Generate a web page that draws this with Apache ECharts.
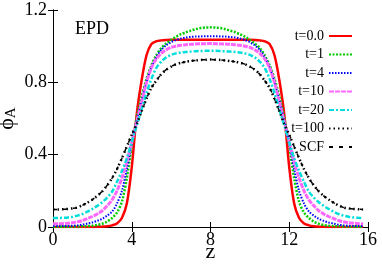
<!DOCTYPE html>
<html>
<head>
<meta charset="utf-8">
<script src="https://cdn.jsdelivr.net/npm/echarts@6/dist/echarts.min.js"></script>
<style>
html,body{margin:0;padding:0;background:#fff;}
#chart{width:382px;height:267px;}
</style>
</head>
<body>
<div id="chart"></div>
<script>
// z positions (step 0.25)
const zValues = [0,0.25,0.5,0.75,1,1.25,1.5,1.75,2,2.25,2.5,2.75,3,3.25,3.5,3.75,4,4.25,4.5,4.75,5,5.25,5.5,5.75,6,6.25,6.5,6.75,7,7.25,7.5,7.75,8,
  8.25,8.5,8.75,9,9.25,9.5,9.75,10,10.25,10.5,10.75,11,11.25,11.5,11.75,12,12.25,12.5,12.75,13,13.25,13.5,13.75,14,14.25,14.5,14.75,15,15.25,15.5,15.75];

const t0 = [0,0,0,0,0,0,0,0,0,0.001,0.002,0.004,0.009,0.02,0.05,0.13,0.33,0.62,0.81,0.95,1.012,1.027,1.032,1.034,1.035,1.035,1.035,1.035,1.035,1.035,1.035,1.035,1.035,
  1.035,1.035,1.035,1.035,1.035,1.035,1.035,1.035,1.034,1.032,1.027,1.012,0.95,0.81,0.62,0.33,0.13,0.05,0.02,0.009,0.004,0.002,0.001,0,0,0,0,0,0,0,0];

const t1 = [0.001,0.001,0.001,0.002,0.002,0.003,0.004,0.005,0.007,0.011,0.018,0.03,0.05,0.08,0.14,0.27,0.45,0.6,0.72,0.82,0.895,0.95,0.99,1.015,1.034,1.052,1.066,1.077,1.086,1.094,1.1,1.103,1.104,
  1.103,1.1,1.094,1.086,1.077,1.066,1.052,1.034,1.015,0.99,0.95,0.895,0.82,0.72,0.6,0.45,0.27,0.14,0.08,0.05,0.03,0.018,0.011,0.007,0.005,0.004,0.003,0.002,0.002,0.001,0.001];

const t4 = [0.005,0.005,0.005,0.006,0.007,0.009,0.013,0.019,0.025,0.034,0.045,0.063,0.085,0.13,0.2,0.32,0.46,0.59,0.7,0.8,0.885,0.94,0.98,1.005,1.022,1.034,1.042,1.048,1.051,1.053,1.054,1.055,1.055,
  1.055,1.054,1.053,1.051,1.048,1.042,1.034,1.022,1.005,0.98,0.94,0.885,0.8,0.7,0.59,0.46,0.32,0.2,0.13,0.085,0.063,0.045,0.034,0.025,0.019,0.013,0.009,0.007,0.006,0.005,0.005];

const t10 = [0.018,0.018,0.019,0.021,0.024,0.029,0.036,0.047,0.058,0.072,0.09,0.117,0.15,0.2,0.27,0.36,0.47,0.58,0.69,0.8,0.88,0.93,0.96,0.98,0.993,1.0,1.005,1.008,1.01,1.012,1.013,1.014,1.015,
  1.014,1.013,1.012,1.01,1.008,1.005,1.0,0.993,0.98,0.96,0.93,0.88,0.8,0.69,0.58,0.47,0.36,0.27,0.2,0.15,0.117,0.09,0.072,0.058,0.047,0.036,0.029,0.024,0.021,0.019,0.018];

const t20 = [0.05,0.05,0.051,0.053,0.057,0.063,0.072,0.085,0.1,0.117,0.137,0.163,0.195,0.25,0.31,0.38,0.47,0.56,0.65,0.74,0.82,0.88,0.915,0.938,0.952,0.96,0.965,0.968,0.97,0.972,0.973,0.974,0.974,
  0.974,0.973,0.972,0.97,0.968,0.965,0.96,0.952,0.938,0.915,0.88,0.82,0.74,0.65,0.56,0.47,0.38,0.31,0.25,0.195,0.163,0.137,0.117,0.1,0.085,0.072,0.063,0.057,0.053,0.051,0.05];

const t100 = [0.097,0.097,0.098,0.1,0.103,0.108,0.12,0.135,0.152,0.172,0.197,0.23,0.27,0.32,0.38,0.445,0.51,0.57,0.64,0.71,0.77,0.81,0.845,0.87,0.887,0.9,0.908,0.914,0.918,0.921,0.924,0.925,0.926,
  0.925,0.924,0.921,0.918,0.914,0.908,0.9,0.887,0.87,0.845,0.81,0.77,0.71,0.64,0.57,0.51,0.445,0.38,0.32,0.27,0.23,0.197,0.172,0.152,0.135,0.12,0.108,0.103,0.1,0.098,0.097];

// SCF equilibrium profile (coincides with t=100)
const scf = t100.slice();

const seriesNames = ['t=0.0','t=1','t=4','t=10','t=20','t=100','SCF'];
const xTicks = [0,4,8,12,16];
const yTicks = [0,0.4,0.8,1.2];

function pairs(arr){ return zValues.map((z,i)=>[z,arr[i]]); }

const styles = [
  {color:'#ff0000', width:2.5, type:'solid'},
  {color:'#00cc00', width:2.5, type:[2,1.5]},
  {color:'#0000ff', width:2, type:[1.5,1.5]},
  {color:'#ff66ff', width:3, type:[5,1]},
  {color:'#00dddd', width:2.5, type:[5,2,2,2]},
  {color:'#000000', width:2.5, type:[1.5,3]},
  {color:'#000000', width:1.5, type:[4,6]}
];
const dataSets = [t0,t1,t4,t10,t20,t100,scf];

const chart = echarts.init(document.getElementById('chart'), null, {renderer:'canvas'});
const serif = 'Liberation Serif';
const axisCommon = {
  type:'value',
  axisLine:{show:true, lineStyle:{color:'#000', width:1}},
  axisTick:{show:true, inside:true, length:5, lineStyle:{color:'#000'}},
  splitLine:{show:false}
};

chart.setOption({
  animation:false,
  backgroundColor:'#fff',
  grid:{left:53, right:14, top:10, bottom:40, show:false, containLabel:false, outerBoundsMode:'none'},
  title:{text:'EPD', left:70, top:15, textStyle:{fontFamily:serif, fontSize:18, fontWeight:'normal', color:'#000'}},
  legend:{
    orient:'vertical', right:24, top:24, align:'right',
    itemWidth:23, itemHeight:10, itemGap:4.5,
    itemStyle:{opacity:0},
    textStyle:{fontFamily:serif, fontSize:14, color:'#000'},
    data:seriesNames.map(n=>({name:n}))
  },
  xAxis:[
    Object.assign({}, axisCommon, {
      position:'bottom', min:0, max:16, interval:4,
      name:'z', nameLocation:'middle', nameGap:14, nameMoveOverlap:false,
      nameTextStyle:{fontFamily:serif, fontSize:22, color:'#000', verticalAlign:'top'},
      axisLabel:{fontFamily:serif, fontSize:18, color:'#000', margin:4}
    }),
    Object.assign({}, axisCommon, {position:'top', min:0, max:16, interval:4, axisLabel:{show:false}})
  ],
  yAxis:[
    Object.assign({}, axisCommon, {
      position:'left', min:0, max:1.2, interval:0.4,
      name:'{p|ϕ}{s|A}', nameLocation:'middle', nameGap:34, nameMoveOverlap:false,
      nameTextStyle:{fontFamily:serif, color:'#000', rich:{
        p:{fontFamily:serif, fontSize:22, color:'#000'},
        s:{fontFamily:serif, fontSize:15, color:'#000', verticalAlign:'bottom', padding:[8,0,0,0]}
      }},
      axisLabel:{fontFamily:serif, fontSize:18, color:'#000', margin:6,
        formatter:v=>{const t=yTicks.find(x=>Math.abs(x-v)<1e-6); return t===undefined?'':String(t);}}
    }),
    Object.assign({}, axisCommon, {position:'right', min:0, max:1.2, interval:0.4, axisLabel:{show:false}})
  ],
  series: seriesNames.map((n,i)=>({
    name:n, type:'line', data:pairs(dataSets[i]),
    showSymbol:false, symbol:'none', smooth:0.3,
    xAxisIndex:0, yAxisIndex:0,
    lineStyle:{color:styles[i].color, width:styles[i].width, type:styles[i].type},
    itemStyle:{color:styles[i].color},
    z: i===6 ? 1 : 2+i
  }))
});
</script>
</body>
</html>
